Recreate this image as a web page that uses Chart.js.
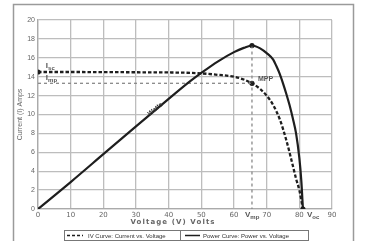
<!DOCTYPE html>
<html>
<head>
<meta charset="utf-8">
<script src="https://cdn.jsdelivr.net/npm/chart.js@4"></script>
<style>
  html, body { margin: 0; padding: 0; background: #fff; }
  #wrap { width: 376px; height: 241px; position: relative; }
</style>
</head>
<body>
<div id="wrap"><canvas id="pvChart" width="376" height="241"></canvas></div>
<script>
// IV curve (current vs voltage)
const ivVolts   = [0, 10, 20, 30, 40, 45, 50, 55, 60, 63, 65.5, 68, 70, 72, 74, 76, 78, 79, 80, 81.1];
const ivAmps    = [14.5, 14.5, 14.48, 14.47, 14.45, 14.42, 14.35, 14.2, 14.0, 13.7, 13.3, 12.7, 12.0, 11.0, 9.5, 7.3, 4.6, 3.2, 2.0, 0];

// Power curve, drawn on the same (current) axis scale
const pwrVolts  = [0, 10, 20, 30, 40, 46.5, 50, 55, 60, 63, 65.5, 68, 70, 72, 73, 74, 75, 76, 77, 78, 79, 80, 80.6, 81.1];
const pwrValues = [0, 2.85, 5.8, 8.75, 11.65, 13.5, 14.4, 15.6, 16.6, 17.05, 17.3, 17.0, 16.5, 15.8, 15.1, 14.3, 13.3, 12.2, 11.0, 9.6, 8.0, 5.4, 3.0, 0];

// key points
const isc = 14.5, vmp = 65.5, imp = 13.3, pmax = 17.3, voc = 81.1;

const xTicks = [0, 10, 20, 30, 40, 50, 60, 70, 80, 90];
const yTicks = [0, 2, 4, 6, 8, 10, 12, 14, 16, 18, 20];

const toPts = (xs, ys) => xs.map((x, i) => ({ x: x, y: ys[i] }));

const grey = '#666';
const lineCol = '#1e1e1e';

// frame, annotations, axis title and boxed legend
const extras = {
    id: 'extras',
    beforeDraw(chart) {
        const c = chart.ctx;
        c.save();
        c.strokeStyle = '#9a9a9a';
        c.lineWidth = 1.5;
        c.strokeRect(13.5, 4.5, 340, 260);
        c.restore();
    },
    afterDraw(chart) {
        const c = chart.ctx;
        const xs = chart.scales.x, ys = chart.scales.y;
        c.save();
        c.fillStyle = '#555';

        // subscript labels
        function subLabel(main, sub, x, y) {
            c.font = 'bold 8px "Liberation Sans"';
            c.textAlign = 'left';
            c.textBaseline = 'alphabetic';
            c.fillText(main, x, y);
            const w = c.measureText(main).width;
            c.font = 'bold 6px "Liberation Sans"';
            c.fillText(sub, x + w, y + 2);
        }
        subLabel('I', 'sc', xs.getPixelForValue(2.4), ys.getPixelForValue(isc) - 4);
        subLabel('I', 'mp', xs.getPixelForValue(2.4), ys.getPixelForValue(imp) - 3);
        subLabel('V', 'mp', xs.getPixelForValue(vmp) - 7, ys.bottom + 8);
        subLabel('V', 'oc', xs.getPixelForValue(voc) + 4, ys.bottom + 8);

        c.font = 'bold 7px "Liberation Sans"';
        c.textAlign = 'left';
        c.textBaseline = 'middle';
        c.fillText('MPP', xs.getPixelForValue(vmp) + 6, ys.getPixelForValue(imp) - 4);

        // Watts label along the power line
        const wx = xs.getPixelForValue(35), wy = ys.getPixelForValue(10.15);
        const ang = Math.atan2(ys.getPixelForValue(0) - ys.getPixelForValue(2.9), xs.getPixelForValue(10) - xs.getPixelForValue(0));
        c.translate(wx + 3, wy - 4);
        c.rotate(-ang);
        c.fillStyle = '#333';
        c.font = 'bold 6.5px "Liberation Sans"';
        c.textAlign = 'center';
        c.fillText('Watts', 0, 0);
        c.setTransform(1, 0, 0, 1, 0, 0);

        // x axis title with wide letter spacing
        c.fillStyle = grey;
        c.font = 'bold 7px "DejaVu Sans"';
        c.letterSpacing = '1.1px';
        c.textAlign = 'center';
        c.textBaseline = 'middle';
        c.fillText('Voltage (V) Volts', 173, 222);
        c.letterSpacing = '0px';

        // legend boxes
        c.strokeStyle = '#777';
        c.lineWidth = 1;
        c.strokeRect(64.5, 230.5, 116, 10);
        c.strokeRect(180.5, 230.5, 128, 10);
        c.strokeStyle = lineCol;
        c.lineWidth = 1.5;
        c.setLineDash([3, 2]);
        c.beginPath(); c.moveTo(67, 235.5); c.lineTo(83, 235.5); c.stroke();
        c.setLineDash([]);
        c.beginPath(); c.moveTo(185, 235.5); c.lineTo(200, 235.5); c.stroke();
        c.fillStyle = '#333';
        c.font = '6px "Liberation Sans Narrow", "Liberation Sans"';
        c.textAlign = 'left';
        c.fillText('IV Curve: Current vs. Voltage', 88, 236);
        c.fillText('Power Curve: Power vs. Voltage', 203, 236);
        c.restore();
    }
};

const ctx = document.getElementById('pvChart').getContext('2d');
const chart = new Chart(ctx, {
    type: 'scatter',
    data: {
        datasets: [
            {
                label: 'IV Curve: Current vs. Voltage',
                data: toPts(ivVolts, ivAmps),
                showLine: true,
                borderColor: lineCol,
                borderWidth: 2.3,
                borderDash: [3.5, 2],
                pointRadius: 0,
                cubicInterpolationMode: 'monotone'
            },
            {
                label: 'Power Curve: Power vs. Voltage',
                data: toPts(pwrVolts, pwrValues),
                showLine: true,
                borderColor: lineCol,
                borderWidth: 2.2,
                pointRadius: 0,
                cubicInterpolationMode: 'monotone'
            },
            {
                label: 'Imp',
                data: [{ x: 0, y: imp }, { x: vmp, y: imp }],
                showLine: true,
                borderColor: '#8a8a8a',
                borderWidth: 1.3,
                borderDash: [3, 3],
                pointRadius: 0
            },
            {
                label: 'Vmp',
                data: [{ x: vmp, y: pmax }, { x: vmp, y: 0 }],
                showLine: true,
                borderColor: '#8a8a8a',
                borderWidth: 1.3,
                borderDash: [3, 3],
                pointRadius: 0
            },
            {
                label: 'points',
                data: [{ x: 0, y: isc }, { x: vmp, y: pmax }, { x: vmp, y: imp }, { x: voc, y: 0 }],
                pointRadius: 2.6,
                pointBackgroundColor: lineCol,
                pointBorderWidth: 0
            }
        ]
    },
    options: {
        responsive: false,
        animation: false,
        layout: { padding: { left: 16, right: 44, top: 20, bottom: 0 } },
        plugins: { legend: { display: false }, tooltip: { enabled: false } },
        scales: {
            x: {
                type: 'linear',
                min: 0, max: 90,
                afterBuildTicks: s => { s.ticks = xTicks.map(v => ({ value: v })); },
                afterFit: s => { s.height = 32; },
                grid: { color: '#bdbdbd', lineWidth: 1.3, drawTicks: false },
                border: { color: '#aaa', width: 1.3 },
                ticks: {
                    padding: 2,
                    color: grey,
                    font: { family: 'DejaVu Sans', size: 7 }
                }
            },
            y: {
                min: 0, max: 20,
                afterBuildTicks: s => { s.ticks = yTicks.map(v => ({ value: v })); },
                afterFit: s => { s.width = 22; },
                grid: { color: '#bdbdbd', lineWidth: 1.3, drawTicks: false },
                border: { color: '#aaa', width: 1.3 },
                title: {
                    display: true,
                    text: 'Current (I) Amps',
                    color: grey,
                    font: { family: 'Liberation Sans', size: 7 },
                    padding: 0
                },
                ticks: {
                    padding: 3,
                    color: grey,
                    font: { family: 'Liberation Sans', size: 7 }
                }
            }
        }
    },
    plugins: [extras]
});
</script>
</body>
</html>
